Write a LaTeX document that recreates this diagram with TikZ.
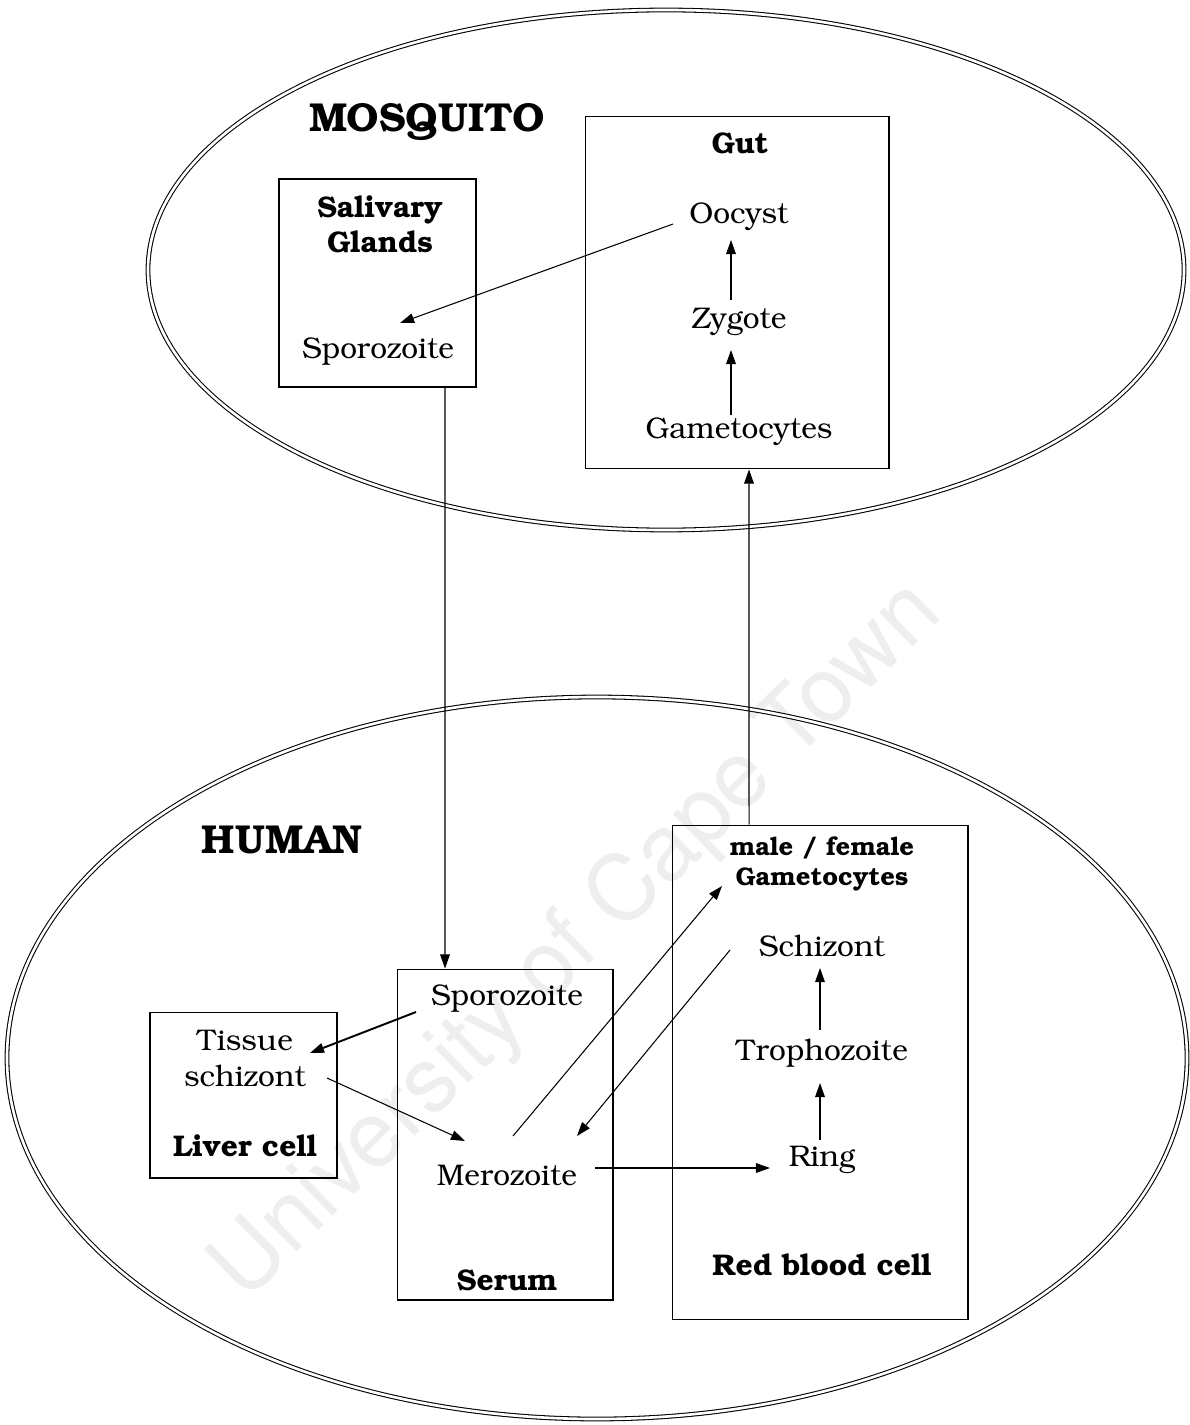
\documentclass[tikz,border=0pt]{standalone}
\usepackage[T1]{fontenc}
\usepackage{bookman}
\usetikzlibrary{arrows.meta}

\begin{document}
\begin{tikzpicture}[
    x=0.02cm, y=-0.02cm,
    >={Triangle[length=8pt, width=5.5pt]},
    host/.style = {
      draw,
      double,
      double distance = 1.5pt,
      line width = 0.6pt
    },
    box/.style = {
      draw,
      line width = 0.6pt,
      inner sep = 0pt
    },
    stage/.style = {font=\fontsize{17}{20}\selectfont, inner sep=2pt},
    heading/.style = {font=\bfseries\fontsize{17}{20}\selectfont, align=center, inner sep=2pt},
    title/.style = {font=\bfseries\fontsize{23}{27}\selectfont},
    flow/.style = {->, line width=0.6pt}
  ]
  \useasboundingbox (0,0) rectangle (1189,1425);
  % watermark
  \node[rotate=44.5, text=gray!13, font=\fontfamily{phv}\fontsize{52}{60}\selectfont]
    (mark) at (578,942) {University of Cape Town};

  % the two hosts
  \draw[host] (666,270) ellipse [x radius=518, y radius=260];
  \draw[host] (597,1058) ellipse [x radius=590, y radius=361];
  \node[title] (mosquito) at (427,122) {MOSQUITO};
  \node[title] (human) at (282,840) {HUMAN};

  % compartments
  \node[box, minimum width=3.94cm, minimum height=4.16cm] (salivary) at (377.5,283) {};
  \node[box, minimum width=6.08cm, minimum height=7.06cm] (gut) at (737,292.5) {};
  \node[box, minimum width=3.74cm, minimum height=3.32cm] (liver) at (243.5,1095) {};
  \node[box, minimum width=4.32cm, minimum height=6.62cm] (serum) at (505,1134.5) {};
  \node[box, minimum width=5.92cm, minimum height=9.90cm] (rbc) at (820,1072.5) {};

  \node[heading] (salivaryname) at (380,225) {Salivary\\Glands};
  \node[heading] (gutname) at (740,143) {Gut};
  \node[heading] (livername) at (245,1146) {Liver cell};
  \node[heading] (serumname) at (507,1280) {Serum};
  \node[heading] (rbcname) at (822,1265) {Red blood cell};

  % stages
  \node[stage] (oocyst) at (739,216) {Oocyst};
  \node[stage] (zygote) at (739,322) {Zygote};
  \node[stage] (gamM) at (739,431) {Gametocytes};
  \node[stage] (spzM) at (378,351) {Sporozoite};
  \node[stage] (spzS) at (507,998) {Sporozoite};
  \node[stage] (mero) at (507,1175) {Merozoite};
  \node[stage, align=center] (tissue) at (245,1058) {Tissue\\schizont};
  \node[heading, font=\bfseries\fontsize{14.5}{17}\selectfont] (gamH) at (822,864)
    {male / female\\Gametocytes};
  \node[stage] (schizont) at (822,946) {Schizont};
  \node[stage] (tropho) at (822,1053) {Trophozoite};
  \node[stage] (ring) at (822,1160) {Ring};

  % mosquito cycle
  \draw[flow] ([shift={(-8,-16)}]gamM.center) -- ([shift={(-8,28)}]zygote.center);
  \draw[flow] ([shift={(-8,-22)}]zygote.center) -- ([shift={(-8,24)}]oocyst.center);
  \draw[flow] ([shift={(-66,8)}]oocyst.center) -- ([shift={(22,-28)}]spzM.center);

  % between hosts
  \draw[flow] ([xshift=1.35cm]salivary.south) -- ([xshift=-1.2cm]serum.north);
  \draw[flow] ([xshift=-1.42cm]rbc.north) -- ([xshift=0.24cm]gut.south);

  % human cycle
  \draw[flow, line width=1.1pt] ([shift={(-91,14)}]spzS.center) -- ([shift={(65,-5)}]tissue.center);
  \draw[flow] ([shift={(82,20)}]tissue.center) -- ([shift={(-42,-34)}]mero.center);
  \draw[flow] ([shift={(6,-39)}]mero.center) -- ([shift={(-100,22)}]gamH.center);
  \draw[flow] ([shift={(-92,4)}]schizont.center) -- ([shift={(70,-39)}]mero.center);
  \draw[flow] ([shift={(88,-7)}]mero.center) -- ([shift={(-52,8)}]ring.center);
  \draw[flow] ([shift={(-2,-20)}]ring.center) -- ([shift={(-2,30)}]tropho.center);
  \draw[flow] ([shift={(-2,-23)}]tropho.center) -- ([shift={(-2,22)}]schizont.center);
\end{tikzpicture}
\end{document}
